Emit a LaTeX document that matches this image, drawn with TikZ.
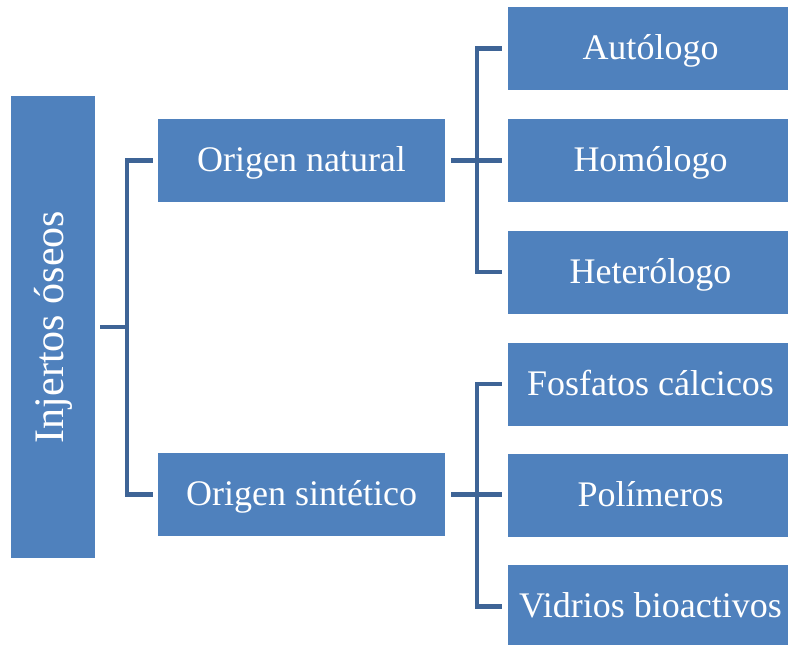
\documentclass[tikz,border=0pt]{standalone}
\usepackage{fontspec}
\setmainfont{Liberation Serif}
\definecolor{boxblue}{RGB}{79,129,189}
\definecolor{lineblue}{RGB}{62,100,150}
\begin{document}
\begin{tikzpicture}[x=1pt,y=-1pt,
  box/.style={fill=boxblue,text=white,inner sep=0pt,minimum width=287pt,minimum height=83pt,text height=28pt,text depth=6pt,font=\fontsize{36}{40}\selectfont},
  leaf/.style={box,minimum width=285pt},
  conn/.style={draw=lineblue,line width=4.3pt}]
\useasboundingbox (0,0) rectangle (788,645);
\node[fill=boxblue,inner sep=0pt,minimum width=84pt,minimum height=462pt] (root) at (53,327) {};
\node[rotate=90,text=white,font=\fontsize{42}{46}\selectfont,inner sep=0pt] (rootlbl) at (root.center) {Injertos óseos};
\node[box] (on) at (301.5,160.5) {Origen natural};
\node[box] (os) at (301.5,494.5) {Origen sintético};
\node[leaf] (aut) at (650.5,48.5) {Autólogo};
\node[leaf] (hom) at (650.5,160.5) {Homólogo};
\node[leaf] (het) at (650.5,272) {Heterólogo};
\node[leaf] (fos) at (650.5,384) {Fosfatos cálcicos};
\node[leaf] (pol) at (650.5,495.5) {Polímeros};
\node[leaf] (vid) at (650.5,606.5) {Vidrios bioactivos};
\coordinate (j1) at (127,327);
\coordinate (j2) at (477,160.5);
\coordinate (j3) at (477,494.5);
\draw[conn] ([xshift=5pt]root.east) -- (j1);
\draw[conn] ([xshift=-5pt]on.west) -| (j1) |- ([xshift=-5pt]os.west);
\draw[conn] ([xshift=6pt]on.east) -- ([xshift=-6pt]on.east -| hom.west);
\draw[conn] ([xshift=-6pt]aut.west) -| (j2) |- ([xshift=-6pt]het.west);
\draw[conn] ([xshift=6pt]os.east) -- ([xshift=-6pt]os.east -| pol.west);
\draw[conn] ([xshift=-6pt]fos.west) -| (j3) |- ([xshift=-6pt]vid.west);
\end{tikzpicture}
\end{document}
